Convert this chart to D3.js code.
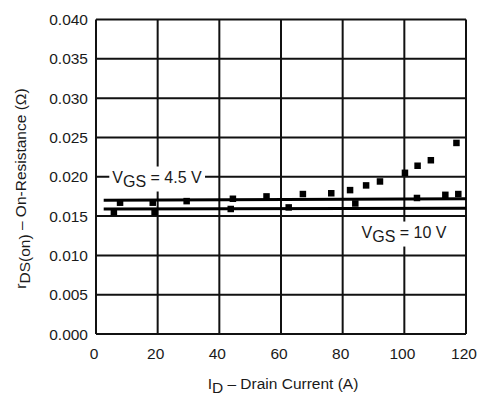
<!DOCTYPE html>
<html>
<head>
<meta charset="utf-8">
<script src="https://cdn.jsdelivr.net/npm/d3@7"></script>
<style>
  body { margin: 0; background: #fff; }
  text { font-family: "Liberation Sans", Arial, sans-serif; fill: #1a1a1a; }
</style>
</head>
<body>
<div id="chart"></div>
<script>
// measured points, VGS = 4.5 V (upper group)
const current45 = [7.8, 18.4, 29.4, 44.4, 55.3, 67.1, 76.3, 82.4, 87.6, 92.1, 100.2, 104.3, 108.6, 116.9];
const rds45 = [0.0167, 0.0167, 0.0169, 0.0172, 0.0175, 0.0178, 0.0179, 0.0183, 0.0189, 0.0194, 0.0205, 0.0214, 0.0221, 0.0243];

// measured points, VGS = 10 V (lower group)
const current10 = [5.8, 19.0, 43.7, 62.5, 84.1, 104.1, 113.3, 117.5];
const rds10 = [0.0155, 0.0155, 0.0159, 0.0161, 0.0166, 0.0173, 0.0177, 0.0178];

// fitted lines
const lineCurrent = [2.5, 120];
const line45 = [0.0170, 0.0172];
const line10 = [0.0159, 0.0160];

const xTicks = [0, 20, 40, 60, 80, 100, 120];
const yTicks = [0, 0.005, 0.010, 0.015, 0.020, 0.025, 0.030, 0.035, 0.040];

const width = 478, height = 399;
const margin = { top: 19.5, right: 12, bottom: 65, left: 96 };

const svg = d3.select('#chart').append('svg')
    .attr('width', width)
    .attr('height', height);

const x = d3.scaleLinear().domain([0, 120]).range([margin.left, width - margin.right]);
const y = d3.scaleLinear().domain([0, 0.04]).range([height - margin.bottom, margin.top]);

// grid
const grid = svg.append('g').attr('stroke', '#111').attr('stroke-width', 2);
grid.selectAll('line.v').data(xTicks).join('line')
    .attr('x1', d => x(d)).attr('x2', d => x(d))
    .attr('y1', y(0)).attr('y2', y(0.04));
grid.selectAll('line.h').data(yTicks).join('line')
    .attr('y1', d => y(d)).attr('y2', d => y(d))
    .attr('x1', x(0)).attr('x2', x(120));

// tick labels
svg.append('g').selectAll('text').data(yTicks).join('text')
    .attr('x', x(0) - 8)
    .attr('y', d => y(d))
    .attr('dy', '0.36em')
    .attr('text-anchor', 'end')
    .attr('font-size', 15.5)
    .text(d3.format('.3f'));

svg.append('g').selectAll('text').data(xTicks).join('text')
    .attr('x', d => x(d) - 2)
    .attr('y', y(0) + 25)
    .attr('text-anchor', 'middle')
    .attr('font-size', 15.5)
    .text(d => d);

// label boxes (cover grid)
function label(cx, cy, main, sub, rest) {
    const g = svg.append('g');
    const t = g.append('text')
        .attr('x', cx).attr('y', cy).attr('dy', '0.36em')
        .attr('text-anchor', 'middle')
        .attr('font-size', 16);
    t.append('tspan').text(main);
    t.append('tspan').attr('dy', 4).text(sub);
    t.append('tspan').attr('dy', -4).text(rest);
    const bb = t.node().getBBox();
    g.insert('rect', 'text')
        .attr('x', bb.x - 3).attr('y', bb.y - 2)
        .attr('width', bb.width + 6).attr('height', bb.height + 4)
        .attr('fill', '#fff');
}
label(157, y(0.020), 'V', 'GS', ' = 4.5 V');
label(404, y(0.0130), 'V', 'GS', ' = 10 V');

// fitted lines
const lineGen = d3.line().x(d => x(d[0])).y(d => y(d[1]));
[line45, line10].forEach(vals => {
    svg.append('path')
        .datum(lineCurrent.map((c, i) => [c, vals[i]]))
        .attr('d', lineGen)
        .attr('fill', 'none')
        .attr('stroke', '#000')
        .attr('stroke-width', 3);
});

// measured points
const sq = 6.5;
const pts = current45.map((c, i) => [c, rds45[i]])
    .concat(current10.map((c, i) => [c, rds10[i]]));
svg.append('g').selectAll('rect').data(pts).join('rect')
    .attr('x', d => x(d[0]) - sq / 2)
    .attr('y', d => y(d[1]) - sq / 2)
    .attr('width', sq).attr('height', sq)
    .attr('fill', '#000');

// axis titles
const xt = svg.append('text')
    .attr('x', x(60) + 2).attr('y', 389)
    .attr('text-anchor', 'middle')
    .attr('font-size', 15.5);
xt.append('tspan').text('I');
xt.append('tspan').attr('dy', 4).attr('font-size', 15.5).text('D');
xt.append('tspan').attr('dy', -4).text(' \u2013 Drain Current (A)');

const yt = svg.append('text')
    .attr('transform', `translate(26,${y(0.0185)}) rotate(-90)`)
    .attr('text-anchor', 'middle')
    .attr('font-size', 15.5);
yt.append('tspan').text('r');
yt.append('tspan').attr('dy', 4).text('DS(on)');
yt.append('tspan').attr('dy', -4).text(' \u2013 On-Resistance (\u03A9)');
</script>
</body>
</html>
